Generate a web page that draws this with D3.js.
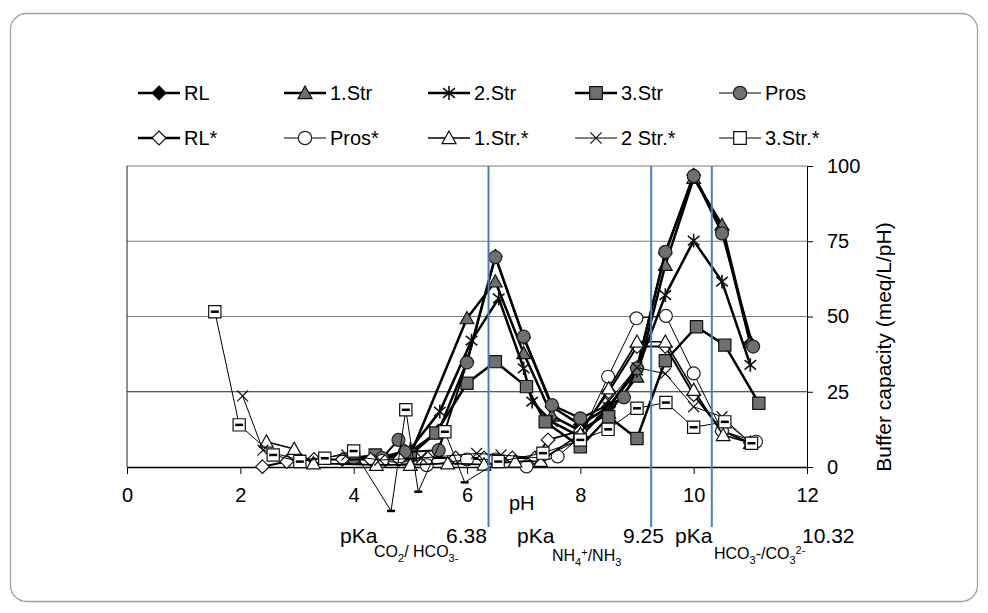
<!DOCTYPE html>
<html>
<head>
<meta charset="utf-8">
<script src="https://cdn.jsdelivr.net/npm/d3@7"></script>
<style>
  body { margin: 0; background: #fff; }
  svg { display: block; font-family: "Liberation Sans", Arial, sans-serif; }
</style>
</head>
<body>
<div id="vis"></div>
<script>
// frame and plot area
const FRAME_WIDTH = 988;
const FRAME_HEIGHT = 613;
const PLOT = {left: 127, right: 807, top: 166, bottom: 467};

// x ticks (pH) and y ticks (buffer capacity)
const X_TICKS = [0, 2, 4, 6, 8, 10, 12];
const Y_TICKS = [0, 25, 50, 75, 100];

// pKa reference values
const PKA_VALUES = [6.38, 9.25, 10.32];

// series: pH and buffer capacity (meq/L/pH)
const RL_PH = [4.0, 4.5, 5.0, 5.5, 6.0, 6.5, 7.0, 7.5, 8.0, 8.5, 9.0, 9.5, 10.0, 10.5, 11.0];
const RL_BC = [3, 3, 5, 12, 35, 70, 43, 20, 14, 20, 33, 71, 97, 79, 41];

const STR1_PH = [4.0, 4.5, 5.0, 6.0, 6.5, 7.0, 7.5, 8.0, 8.5, 9.0, 9.5, 10.0, 10.5, 11.0];
const STR1_BC = [3, 3, 4, 49.4, 61.6, 37.8, 17, 12, 18, 30, 67.1, 96, 80.4, 41.5];

const STR2_PH = [4.0, 4.5, 5.0, 5.52, 6.08, 6.56, 7.0, 7.15, 7.5, 8.0, 8.5, 9.0, 9.5, 10.0, 10.5, 11.0];
const STR2_BC = [3, 3, 6, 18.4, 42, 56, 32.8, 21.7, 15, 10, 20, 32, 57.1, 75.2, 61.6, 33.9];

const STR3_PH = [4.0, 4.38, 5.0, 5.45, 6.0, 6.5, 7.05, 7.38, 8.0, 8.5, 9.0, 9.5, 10.05, 10.55, 11.15];
const STR3_BC = [3, 4, 4, 11.3, 27.8, 35, 26.7, 15, 6.7, 16.7, 9.5, 35.3, 46.6, 40.5, 21.2];

const PROS_PH = [4.0, 4.5, 4.79, 4.9, 5.5, 6.0, 6.5, 7.0, 7.5, 8.0, 8.77, 9.0, 9.5, 10.0, 10.5, 11.05];
const PROS_BC = [3, 3, 9, 5, 5.6, 34.7, 69.7, 43.3, 20.6, 16.2, 23.1, 32.8, 71.5, 96.7, 77.6, 40];

const RLS_PH = [2.39, 2.82, 3.3, 3.8, 4.3, 4.8, 5.3, 5.8, 6.3, 6.8, 7.2, 7.43, 8.0, 8.5, 9.0, 9.5, 10.0, 10.5, 11.0];
const RLS_BC = [0.1, 1.8, 2.5, 2.5, 2.5, 2.5, 3, 3, 3, 3, 3, 9, 12, 25, 40, 40, 24, 12, 8];

const PROSS_PH = [4.5, 5.29, 6.0, 6.5, 7.05, 7.6, 8.0, 8.49, 8.99, 9.51, 10.0, 10.5, 11.1];
const PROSS_BC = [2, 0.6, 2.5, 2.5, 0.2, 3.5, 10, 30, 49.4, 50.2, 31.1, 12, 8.4];

const STR1S_PH = [2.46, 2.95, 3.29, 4.4, 5.0, 5.66, 6.3, 6.85, 7.3, 8.0, 8.5, 9.0, 9.5, 10.0, 10.52, 11.0];
const STR1S_BC = [8.4, 6, 1.2, 0.7, 0.7, 1.2, 0.8, 1.8, 2, 11, 26.1, 41.6, 41.6, 25.6, 10.6, 8];

const STR2S_PH = [2.04, 2.4, 3.05, 3.88, 4.46, 5.2, 6.17, 6.6, 7.3, 8.0, 8.5, 9.0, 9.5, 10.0, 10.5, 11.0];
const STR2S_BC = [23.6, 5.6, 2.3, 4, 2.3, 3, 4.5, 4, 3, 9, 22, 33, 31, 20, 16.7, 8];

const STR3S_PH = [1.55, 1.98, 2.58, 3.05, 3.49, 4.0, 4.66, 4.92, 5.14, 5.61, 5.96, 6.55, 7.34, 8.0, 8.49, 9.0, 9.51, 10.0, 10.55, 11.02];
const STR3S_BC = [51.6, 14, 4, 1.8, 2.9, 5.3, -14.6, 19, -8.2, 11.7, -5.1, 1.8, 4.6, 9, 12.5, 19.5, 21.4, 13.2, 15, 7.9];

const GRAY = "#6e6f71";

// series table (legend order = drawing order)
const SERIES = [
	{name: "RL",       ph: RL_PH,    bc: RL_BC,    shape: "diamond",  fill: "#000", width: 2.5, legW: 2.5},
	{name: "1.Str",    ph: STR1_PH,  bc: STR1_BC,  shape: "triangle", fill: GRAY,   width: 2.5, legW: 2.5},
	{name: "2.Str",    ph: STR2_PH,  bc: STR2_BC,  shape: "star",     fill: "#000", width: 2.5, legW: 2.5},
	{name: "3.Str",    ph: STR3_PH,  bc: STR3_BC,  shape: "square",   fill: GRAY,   width: 2.5, legW: 2.5},
	{name: "Pros",     ph: PROS_PH,  bc: PROS_BC,  shape: "circle",   fill: GRAY,   width: 2,   legW: 1.2},
	{name: "RL*",      ph: RLS_PH,   bc: RLS_BC,   shape: "diamond",  fill: "#fff", width: 2,   legW: 2.3},
	{name: "Pros*",    ph: PROSS_PH, bc: PROSS_BC, shape: "circle",   fill: "#fff", width: 1,   legW: 1},
	{name: "1.Str.*",  ph: STR1S_PH, bc: STR1S_BC, shape: "triangle", fill: "#fff", width: 1.6, legW: 1.6},
	{name: "2 Str.*",  ph: STR2S_PH, bc: STR2S_BC, shape: "x",        fill: "#fff", width: 1,   legW: 1},
	{name: "3.Str.*",  ph: STR3S_PH, bc: STR3S_BC, shape: "squaredash", fill: "#fff", width: 1, legW: 1}
];

const FONT = "Liberation Sans, Arial, sans-serif";

const FRAME = d3.select("#vis")
	.append("svg")
		.attr("width", FRAME_WIDTH)
		.attr("height", FRAME_HEIGHT);

// outer rounded border
FRAME.append("rect")
	.attr("x", 10.5).attr("y", 13.5)
	.attr("width", 967).attr("height", 588)
	.attr("rx", 16)
	.attr("fill", "none")
	.attr("stroke", "#a0a0a0")
	.attr("stroke-width", 1.3);

const X_SCALE = d3.scaleLinear().domain([0, 12]).range([PLOT.left, PLOT.right]);
const Y_SCALE = d3.scaleLinear().domain([0, 100]).range([PLOT.bottom, PLOT.top]);

// gridlines
FRAME.append("g")
	.selectAll("line")
	.data(Y_TICKS.filter(d => d > 0))
	.enter()
	.append("line")
		.attr("x1", PLOT.left).attr("x2", PLOT.right)
		.attr("y1", d => Y_SCALE(d)).attr("y2", d => Y_SCALE(d))
		.attr("stroke", d => d === 25 ? "#222" : "#7a7a7a")
		.attr("stroke-width", 1.2);

// left border of plot area
FRAME.append("line")
	.attr("x1", PLOT.left).attr("x2", PLOT.left)
	.attr("y1", PLOT.top).attr("y2", PLOT.bottom)
	.attr("stroke", "#222");

// x axis
const xAxis = FRAME.append("g")
	.attr("transform", "translate(0," + PLOT.bottom + ")")
	.call(d3.axisBottom(X_SCALE).tickValues(X_TICKS).tickSize(7).tickSizeOuter(0).tickPadding(14));
xAxis.select(".domain").attr("stroke", "#000").attr("stroke-width", 1.5);
xAxis.selectAll("text").attr("font-size", "20px").attr("fill", "#000").attr("font-family", FONT);

// y axis on the right
const yAxis = FRAME.append("g")
	.attr("transform", "translate(" + PLOT.right + ",0)")
	.call(d3.axisRight(Y_SCALE).tickValues(Y_TICKS).tickSize(6).tickSizeOuter(0).tickPadding(14));
yAxis.select(".domain").attr("stroke", "#000");
yAxis.selectAll("text").attr("font-size", "20px").attr("fill", "#000").attr("font-family", FONT);

// axis titles
FRAME.append("text")
	.attr("x", 509).attr("y", 510)
	.attr("font-size", "20px")
	.text("pH");

FRAME.append("text")
	.attr("transform", "translate(891,347) rotate(-90)")
	.attr("text-anchor", "middle")
	.attr("font-size", "21px")
	.text("Buffer capacity (meq/L/pH)");

// marker path for each shape
function markerPath(shape, r) {
	if (shape === "diamond") return `M0,${-r}L${r},0L0,${r}L${-r},0Z`;
	if (shape === "triangle") return `M0,${-r}L${r},${r * 0.8}L${-r},${r * 0.8}Z`;
	if (shape === "square" || shape === "squaredash") return `M${-r * 0.9},${-r * 0.9}H${r * 0.9}V${r * 0.9}H${-r * 0.9}Z`;
	if (shape === "star") return `M0,${-r}V${r}M${-r * 0.85},${-r * 0.7}L${r * 0.85},${r * 0.7}M${-r * 0.85},${r * 0.7}L${r * 0.85},${-r * 0.7}`;
	if (shape === "x") return `M${-r * 0.8},${-r * 0.8}L${r * 0.8},${r * 0.8}M${-r * 0.8},${r * 0.8}L${r * 0.8},${-r * 0.8}`;
	return null;
}

function drawMarker(g, s, r) {
	if (s.shape === "circle") {
		g.append("circle").attr("r", r * 0.95)
			.attr("fill", s.fill).attr("stroke", "#222").attr("stroke-width", 1.2);
	} else {
		const isLine = s.shape === "star" || s.shape === "x";
		g.append("path").attr("d", markerPath(s.shape, r))
			.attr("fill", isLine ? "none" : s.fill)
			.attr("stroke", "#111")
			.attr("stroke-width", s.shape === "star" ? 1.6 : 1.2);
	}
}

const line = d3.line()
	.x(d => X_SCALE(d.ph))
	.y(d => Y_SCALE(d.bc));

// plot series
SERIES.forEach((s) => {
	const pts = s.ph.map((p, i) => ({ph: p, bc: s.bc[i]}));
	const g = FRAME.append("g");

	g.append("path")
		.datum(pts)
		.attr("d", line)
		.attr("fill", "none")
		.attr("stroke", "#000")
		.attr("stroke-width", s.width)
		.attr("stroke-linejoin", "round");

	g.selectAll(".pt")
		.data(pts)
		.enter()
		.append("g")
			.attr("class", "pt")
			.attr("transform", d => "translate(" + X_SCALE(d.ph) + "," + Y_SCALE(d.bc) + ")")
			.each(function(d) {
				const m = d3.select(this);
				// markers below the plot area are clipped, only the bar remains
				if (d.bc >= 0) drawMarker(m, s, 6.8);
				if (s.shape === "squaredash") {
					m.append("line").attr("x1", -4).attr("x2", 4)
						.attr("stroke", "#000").attr("stroke-width", 2.5);
				}
			});
});

// pKa reference lines
FRAME.append("g")
	.selectAll("line")
	.data(PKA_VALUES)
	.enter()
	.append("line")
		.attr("x1", d => X_SCALE(d)).attr("x2", d => X_SCALE(d))
		.attr("y1", PLOT.top).attr("y2", 527)
		.attr("stroke", "#4a7ebb")
		.attr("stroke-width", 2);

// pKa labels
const PKA_LABELS = [
	{pka: "pKa", x: 340, val: "6.38", vx: 446, sx: 374, sy: 557,
		parts: [["CO", 0], ["2", 1], ["/ HCO", 0], ["3", 1], ["-", 1]]},
	{pka: "pKa", x: 517, val: "9.25", vx: 623, sx: 552, sy: 561,
		parts: [["NH", 0], ["4", 1], ["+", -1], ["/NH", 0], ["3", 1]]},
	{pka: "pKa", x: 675, val: "10.32", vx: 802, sx: 714, sy: 559,
		parts: [["HCO", 0], ["3", 1], ["-/CO", 0], ["3", 1], ["2-", -1]]}
];

PKA_LABELS.forEach((l) => {
	FRAME.append("text").attr("x", l.x).attr("y", 543).attr("font-size", "21px").text(l.pka);
	FRAME.append("text").attr("x", l.vx).attr("y", 543).attr("font-size", "21px").text(l.val);
	const t = FRAME.append("text").attr("x", l.sx).attr("y", l.sy).attr("font-size", "16px");
	let level = 0;
	l.parts.forEach(([str, lv]) => {
		const shift = (lv - level) * 5;
		t.append("tspan")
			.attr("dy", shift)
			.attr("font-size", lv === 0 ? "16px" : "11px")
			.text(str);
		level = lv;
	});
});

// legend
const LEG_X = [138, 284, 428, 575, 719];
const LEG_Y = [93, 138];
SERIES.forEach((s, i) => {
	const row = i < 5 ? 0 : 1;
	const col = i % 5;
	const g = FRAME.append("g")
		.attr("transform", "translate(" + LEG_X[col] + "," + LEG_Y[row] + ")");
	g.append("line").attr("x1", 0).attr("x2", 42)
		.attr("stroke", "#000").attr("stroke-width", s.legW);
	const m = g.append("g").attr("transform", "translate(21,0)");
	drawMarker(m, s, 7);
	g.append("text").attr("x", 46).attr("y", 7)
		.attr("font-size", "20px")
		.text(s.name);
});
</script>
</body>
</html>
